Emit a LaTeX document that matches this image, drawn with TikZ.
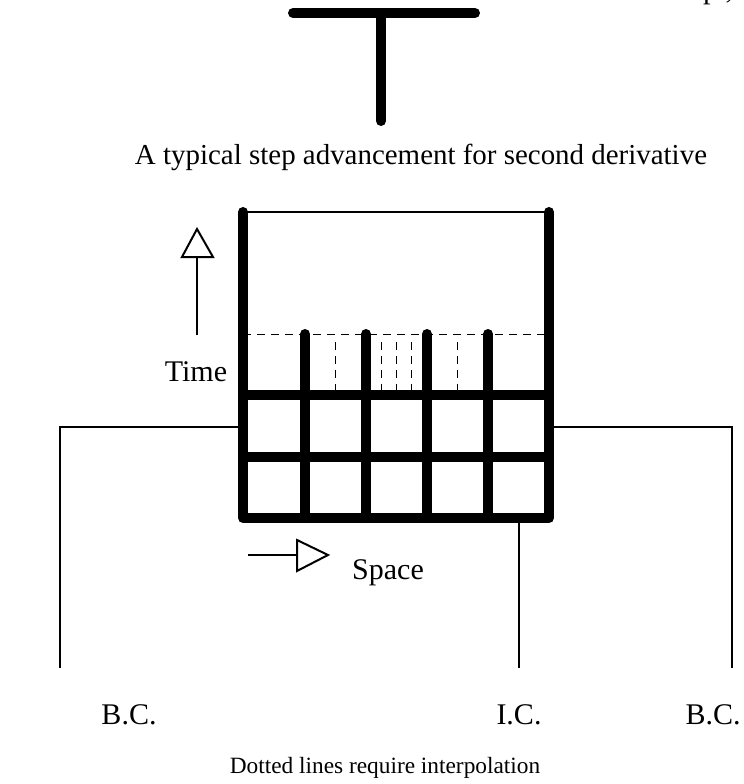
\documentclass[tikz,border=0pt]{standalone}
\usepackage{fontspec}
\setmainfont{Liberation Serif}
\begin{document}
\begin{tikzpicture}[x=0.75pt,y=-0.75pt,
  heavy/.style={line width=7.5pt, line cap=round, line join=round},
  light/.style={line width=1.5pt},
  dashline/.style={line width=0.75pt, dash pattern=on 6pt off 4.5pt},
  lbl/.style={font=\fontsize{22.5}{27}\selectfont, inner sep=0pt},
  caption/.style={font=\fontsize{21.7}{26}\selectfont, inner sep=0pt},
  note/.style={font=\fontsize{17.5}{21}\selectfont, inner sep=0pt},
  opentri/.style={draw, line width=1.5pt, fill=white, line join=miter}]
\useasboundingbox (0,0) rectangle (743,784);

% text fragment running off the top edge
\node[lbl, anchor=base] (frag) at (718,-1) {p.,};

% step stencil
\coordinate (tl) at (293,13);
\coordinate (tr) at (475,13);
\coordinate (tm) at (381,13);
\coordinate (tb) at (381,121);
\draw[heavy] (tl) -- (tr);
\draw[heavy] (tm) -- (tb);
\node[caption] (steptext) at (421,157) {A typical step advancement for second derivative};

% grid: top boundary and dashed interpolation level
\coordinate (g00) at (243,518);
\coordinate (g50) at (549,518);
\coordinate (gtl) at (243,212);
\coordinate (gtr) at (549,212);
\draw[light] (gtl) -- (gtr);
\draw[dashline] (243,334) -- (549,334);
\foreach \x in {335,381,396,411,457}
  \draw[dashline] (\x,342) -- (\x,391);

% grid: heavy frame and lines
\draw[heavy] (gtl) -- (g00) -- (g50) -- (gtr);
\foreach \y in {395,457}
  \draw[heavy] (243,\y) -- (549,\y);
\foreach \x in {305,366,427,488}
  \draw[heavy] (\x,334) -- (\x,518);

% time arrow
\coordinate (ta0) at (197,335);
\coordinate (ta1) at (197,257);
\draw[light] (ta0) -- (ta1);
\draw[opentri] (197,229) -- (182,257) -- (213,257) -- cycle;
\node[lbl] (time) at (196,372) {Time};

% space arrow
\coordinate (sa0) at (248,555);
\coordinate (sa1) at (297,555);
\draw[light] (sa0) -- (sa1);
\draw[opentri] (297,540) -- (328,555) -- (297,571) -- cycle;
\node[lbl] (space) at (388,573) {Space};

% boundary and initial condition leaders
\coordinate (bl0) at (243,427);
\coordinate (bl1) at (60,427);
\coordinate (bl2) at (60,668);
\coordinate (br0) at (549,427);
\coordinate (br1) at (732,427);
\coordinate (br2) at (732,668);
\coordinate (ic0) at (519,518);
\coordinate (ic1) at (519,668);
\draw[light] (bl0) -- (bl1) -- (bl2);
\draw[light] (br0) -- (br1) -- (br2);
\draw[light] (ic0) -- (ic1);

\node[lbl] (bcl) at (129,715) {B.C.};
\node[lbl] (ic) at (519,715) {I.C.};
\node[lbl] (bcr) at (713,715) {B.C.};
\node[note] (notetext) at (385,768) {Dotted lines require interpolation};
\end{tikzpicture}
\end{document}
